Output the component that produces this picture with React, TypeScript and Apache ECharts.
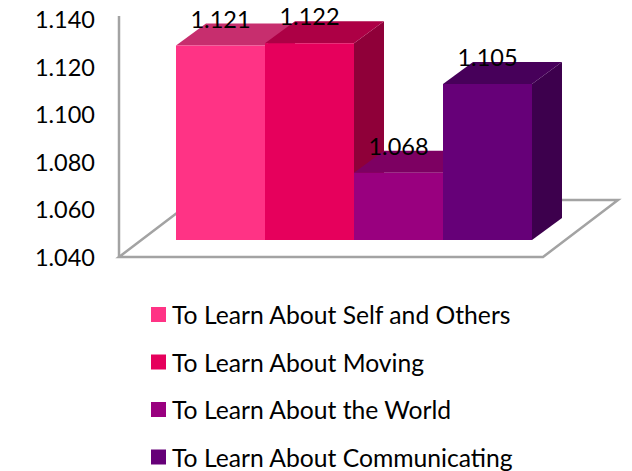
import React, { useEffect, useRef } from "react";
import * as echarts from "echarts";

const categories = ["To Learn About Self and Others", "To Learn About Moving", "To Learn About the World", "To Learn About Communicating"];
const values = [1.121, 1.122, 1.068, 1.105];
const labels = ["1.121", "1.122", "1.068", "1.105"];
const frontColors = ["#FF3385", "#E6005C", "#99007F", "#660078"];
const topColors = ["#C72E6E", "#AD0045", "#7D0062", "#47005A"];
const sideColors = ["#A8004A", "#8F0039", "#6E0058", "#3D004D"];
const axisMin = 1.04;
const axisMax = 1.14;
const axisStep = 0.02;
const FONT = "Lato";
const DX = 30;
const DY = 22;

export default function App() {
  const ref = useRef<HTMLDivElement>(null);
  useEffect(() => {
    const chart = echarts.init(ref.current!, undefined, { renderer: "svg" });
    const series = categories.map((name, i) => ({
      type: "custom",
      name,
      xAxisIndex: 1,
      yAxisIndex: 1,
      itemStyle: { color: frontColors[i] },
      encode: { x: 0, y: 1 },
      clip: false,
      data: [[i, values[i]]],
      renderItem: (_: any, api: any) => {
        const idx = api.value(0);
        const v = api.value(1);
        const top = api.coord([idx, v]);
        const base = api.coord([idx, axisMin]);
        const w = api.size([1, 0])[0];
        const l = top[0] - w / 2;
        const r = top[0] + w / 2;
        const t = top[1];
        const b = base[1];
        return {
          type: "group",
          children: [
            { type: "polygon", shape: { points: [[r, t], [r + DX, t - DY], [r + DX, b - DY], [r, b]] }, style: { fill: sideColors[i] } },
            { type: "polygon", shape: { points: [[l, t], [l + DX, t - DY], [r + DX, t - DY], [r, t]] }, style: { fill: topColors[i] } },
            { type: "rect", shape: { x: l, y: t, width: w, height: b - t }, style: { fill: frontColors[i] } },
            {
              type: "text",
              z2: 100,
              x: top[0],
              y: t - 27,
              style: { text: labels[i], fill: "#000", font: `23.5px ${FONT}`, align: "center", verticalAlign: "middle" },
            },
          ],
        };
      },
    }));
    chart.setOption({
      animation: false,
      backgroundColor: "#fff",
      grid: [
        { left: 119, top: 19, width: 424, height: 238 },
        { left: 176, top: 0, width: 356, height: 240 },
      ],
      xAxis: [
        { gridIndex: 0, type: "category", data: categories, show: false },
        { gridIndex: 1, type: "category", data: categories, show: false },
      ],
      yAxis: [
        {
          gridIndex: 0,
          type: "value",
          min: axisMin,
          max: axisMax,
          interval: axisStep,
          axisLine: { show: false },
          axisTick: { show: false },
          splitLine: { show: false },
          axisLabel: { margin: 24, color: "#000", fontFamily: FONT, fontSize: 23.5, formatter: (x: number) => x.toFixed(3) },
        },
        { gridIndex: 1, type: "value", min: axisMin, max: axisMax, show: false, splitLine: { show: false } },
      ],
      legend: {
        orient: "vertical",
        left: 151,
        top: 302,
        width: 460,
        height: 220,
        padding: 0,
        itemWidth: 15,
        itemHeight: 15,
        itemGap: 22.5,
        icon: "rect",
        data: categories,
        selectedMode: false,
        textStyle: { color: "#000", fontFamily: FONT, fontSize: 24.7, padding: [0, 0, 0, 1], height: 24, lineHeight: 24 },
      },
      graphic: [
        { type: "polygon", z: 0, shape: { points: [[119, 257], [194, 200], [618, 200], [543, 257]] }, style: { fill: "#fff", stroke: "#A3A3A3", lineWidth: 2.5 } },
        { type: "line", z: 0, shape: { x1: 119, y1: 16, x2: 119, y2: 257 }, style: { stroke: "#A3A3A3", lineWidth: 2.5 } },
      ],
      series,
    });
    return () => chart.dispose();
  }, []);
  return <div ref={ref} style={{ position: "absolute", left: 0, top: 0, width: 632, height: 471 }} />;
}
